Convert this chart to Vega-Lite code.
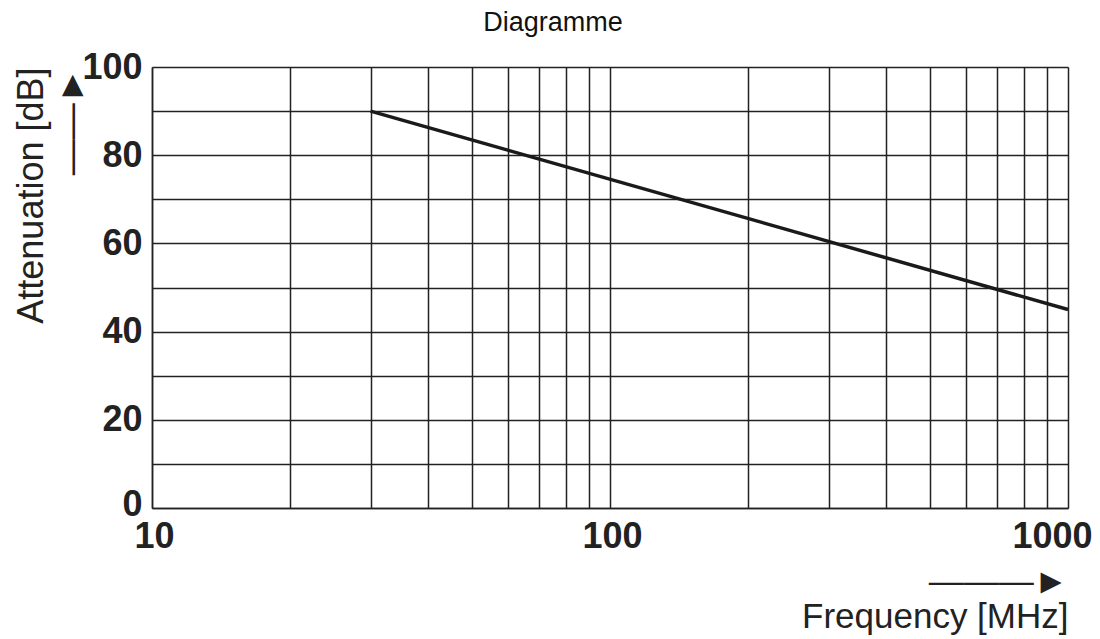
{
  "$schema": "https://vega.github.io/schema/vega-lite/v6.json",
  "width": 916,
  "height": 441,
  "autosize": "none",
  "padding": {"left": 152, "top": 67, "right": 32, "bottom": 131},
  "background": "white",
  "title": {
    "text": "Diagramme",
    "anchor": "middle",
    "frame": "bounds",
    "font": "Liberation Sans",
    "fontSize": 27,
    "fontWeight": "normal",
    "color": "#111111",
    "offset": 12
  },
  "data": {
    "values": [
      {"frequency": 30, "attenuation": 90},
      {"frequency": 1000, "attenuation": 45}
    ]
  },
  "mark": {"type": "line", "color": "#1a1a1a", "strokeWidth": 3.5},
  "encoding": {
    "x": {
      "field": "frequency",
      "type": "quantitative",
      "scale": {"type": "log", "domain": [10, 1000]},
      "axis": {
        "values": [10, 20, 30, 40, 50, 60, 70, 80, 90, 100, 200, 300, 400, 500, 600, 700, 800, 900, 1000],
        "grid": true,
        "gridColor": "#222222",
        "gridWidth": 1.5,
        "gridOpacity": 1,
        "ticks": false,
        "domain": true,
        "domainColor": "#222222",
        "domainWidth": 1.5,
        "labelExpr": "datum.value == 10 || datum.value == 100 || datum.value == 1000 ? format(datum.value, 'd') : ''",
        "labelFont": "Liberation Sans",
        "labelFontWeight": "bold",
        "labelFontSize": 36,
        "labelColor": "#222222",
        "labelPadding": 11,
        "labelOffset": {"condition": {"test": "datum.value == 1000", "value": -16}, "value": 2},
        "labelFlush": false,
        "labelOverlap": false,
        "labelBound": false,
        "title": ["———►", "Frequency [MHz]"],
        "titleFont": "Liberation Sans",
        "titleFontWeight": "normal",
        "titleFontSize": 35,
        "titleColor": "#222222",
        "titleAnchor": "end",
        "titleAlign": "right",
        "titleLineHeight": 35,
        "titlePadding": 10
      }
    },
    "y": {
      "field": "attenuation",
      "type": "quantitative",
      "scale": {"domain": [0, 100], "nice": false},
      "axis": {
        "values": [0, 10, 20, 30, 40, 50, 60, 70, 80, 90, 100],
        "grid": true,
        "gridColor": "#222222",
        "gridWidth": 1.5,
        "gridOpacity": 1,
        "ticks": false,
        "domain": true,
        "domainColor": "#222222",
        "domainWidth": 1.5,
        "labelExpr": "datum.value % 20 == 0 ? datum.label : ''",
        "labelFont": "Liberation Sans",
        "labelFontWeight": "bold",
        "labelFontSize": 36,
        "labelColor": "#222222",
        "labelPadding": 10,
        "labelOffset": {"condition": {"test": "datum.value == 0", "value": -4}, "value": 0},
        "labelOverlap": false,
        "labelBound": false,
        "labelFlush": false,
        "title": ["Attenuation [dB]", "——►"],
        "titleFont": "Liberation Sans",
        "titleFontWeight": "normal",
        "titleFontSize": 36,
        "titleColor": "#222222",
        "titleAnchor": "end",
        "titleAlign": "right",
        "titleLineHeight": 40,
        "titlePadding": -9
      }
    }
  },
  "config": {"view": {"stroke": null}}
}
